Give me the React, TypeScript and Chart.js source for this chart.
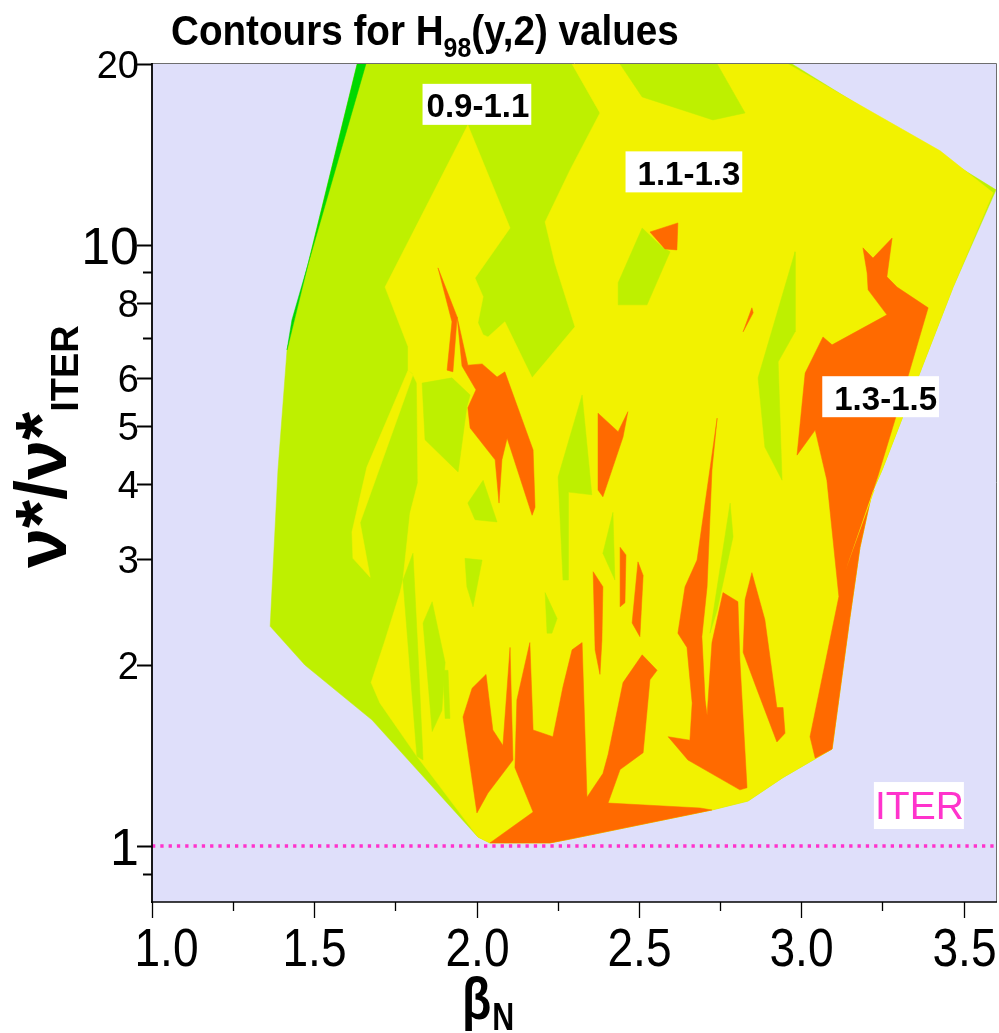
import React, { useEffect, useRef } from "react";
import { Chart, registerables } from "chart.js";

Chart.register(...registerables);

type Pt = [number, number];

// ---------- axes ----------
const betaRange: [number, number] = [1.0, 3.6];
const nuRange: [number, number] = [0.807, 20];
const betaTicks = [1.0, 1.25, 1.5, 1.75, 2.0, 2.25, 2.5, 2.75, 3.0, 3.25, 3.5];
const betaTickLabels = ["1.0", "", "1.5", "", "2.0", "", "2.5", "", "3.0", "", "3.5"];
const nuTicks = [0.9, 1, 2, 3, 4, 5, 6, 7, 8, 9, 10, 20];
const nuTickLabels = ["", "1", "2", "3", "4", "5", "6", "", "8", "", "10", "20"];

// ---------- reference level ----------
const iterNu = 1;
const iterLabel = "ITER";
const iterLabelPos: Pt = [3.364, 1.17];

// ---------- band labels ----------
const bandLabels = ["0.9-1.1", "1.1-1.3", "1.3-1.5"];
const bandLabelBeta = [2.004, 2.654, 3.26];
const bandLabelNu = [17.07, 13.18, 5.57];

// ---------- contour regions, (βN, ν*/ν*ITER) vertices ----------
// whole sampled domain: 0.9-1.1 band
const hull: Pt[] = [
  [1.632, 20], [2.972, 20], [3.6, 12.35], [3.468, 8.51], [3.249, 4.22], [3.218, 3.87],
  [3.181, 3.14], [3.15, 2.4], [3.095, 1.45], [2.944, 1.3], [2.836, 1.188], [2.725, 1.148],
  [2.288, 1.027], [2.226, 1.012], [2.041, 1.012], [2.004, 1.035], [1.678, 1.62], [1.471, 2.0],
  [1.364, 2.32], [1.388, 4.22], [1.416, 6.69],
];
// < 0.9 strip on the low-beta edge
const lowStrip: Pt[] = [[1.632, 20], [1.659, 20], [1.431, 7.5], [1.416, 6.69]];

// 1.1-1.3 band
const midMain: Pt[] = [
  [2.294, 20], [2.959, 20], [3.428, 14.34], [3.591, 12.21], [3.468, 8.51], [3.249, 4.22],
  [3.218, 3.87], [3.181, 3.14], [3.15, 2.4], [3.095, 1.45], [2.944, 1.3], [2.836, 1.188],
  [2.725, 1.148], [2.288, 1.027], [2.226, 1.012], [2.041, 1.012], [2.004, 1.035], [1.866, 1.3],
  [1.816, 1.41], [1.702, 1.73], [1.675, 1.87], [1.718, 2.2], [1.764, 2.64], [1.773, 2.77],
  [1.795, 3.58], [1.819, 4.02], [1.816, 5.89], [1.801, 6.12], [1.789, 6.19], [1.789, 6.77],
  [1.718, 8.51], [1.973, 15.83], [2.103, 10.67], [1.995, 8.81], [2.02, 8.2], [2.004, 7.42],
  [2.02, 7.09], [2.035, 7.03], [2.087, 7.45], [2.171, 6.01], [2.303, 7.31], [2.241, 9.33],
  [2.211, 10.92], [2.288, 13.33], [2.38, 16.58],
];
const midSliver: Pt[] = [
  [1.789, 6.19], [1.804, 6.08], [1.641, 3.45], [1.672, 2.8], [1.619, 3.01], [1.616, 3.33], [1.662, 4.27],
];
// thin 1.1-1.3 thread crossing the high-beta 1.3-1.5 patch
const midThread: Pt[] = [[3.222, 3.91], [3.226, 3.91], [3.137, 2.88]];

// 0.9-1.1 pockets inside the 1.1-1.3 band
const lowTop: Pt[] = [[2.442, 20], [2.741, 20], [2.827, 16.58], [2.728, 16.14], [2.51, 17.63]];
const lowA: Pt[] = [[2.51, 10.67], [2.571, 9.92], [2.596, 9.74], [2.525, 7.95], [2.436, 7.95], [2.436, 8.65]];
const lowB: Pt[] = [[1.832, 5.89], [1.924, 6.01], [1.98, 5.63], [1.97, 5.38], [1.943, 4.19], [1.841, 4.74]];
const lowC: Pt[] = [[1.973, 3.72], [2.02, 4.06], [2.063, 3.46], [1.995, 3.49]];
const lowD: Pt[] = [[1.964, 3.01], [2.017, 2.99], [1.989, 2.5], [1.97, 2.7]];
const lowE: Pt[] = [[2.211, 2.64], [2.248, 2.39], [2.232, 2.26], [2.217, 2.26]];
const lowF: Pt[] = [[2.251, 4.11], [2.325, 5.63], [2.355, 3.84], [2.282, 3.88], [2.282, 2.77], [2.266, 2.77]];
const lowG: Pt[] = [[2.981, 9.74], [2.981, 7.17], [2.929, 6.39], [2.941, 4.06], [2.888, 4.61], [2.867, 6.01]];
const lowH: Pt[] = [[2.389, 3.07], [2.42, 3.59], [2.426, 2.77]];
const lowI: Pt[] = [[2.719, 2.26], [2.781, 3.72], [2.79, 3.27], [2.741, 2.47]];
const lowJ: Pt[] = [[1.835, 2.35], [1.863, 2.55], [1.903, 2.02], [1.893, 1.68], [1.863, 1.55]];
const lowK: Pt[] = [[1.896, 1.96], [1.912, 1.96], [1.918, 1.63], [1.903, 1.63]];
const lowL: Pt[] = [[1.804, 3.07], [1.819, 2.12], [1.835, 1.39], [1.816, 1.41], [1.773, 2.77]];

// 1.3-1.5 band
const highA: Pt[] = [[2.534, 10.51], [2.62, 10.88], [2.617, 9.81], [2.58, 9.85]];
const highSpike: Pt[] = [[1.881, 9.16], [1.94, 7.59], [1.927, 6.15], [1.909, 6.19], [1.924, 7.45]];
const highB: Pt[] = [
  [1.94, 7.59], [1.973, 6.31], [2.017, 6.34], [2.063, 6.03], [2.087, 6.15], [2.174, 4.56],
  [2.18, 3.66], [2.171, 3.55], [2.094, 4.77], [2.078, 4.39], [2.069, 3.72], [2.057, 4.39],
  [1.98, 4.96], [1.973, 5.36], [1.998, 5.74], [1.955, 6.29],
];
const highC: Pt[] = [
  [3.19, 9.89], [3.221, 9.51], [3.28, 10.27], [3.264, 8.85], [3.295, 8.51], [3.391, 7.86],
  [3.314, 5.67], [3.237, 4.14], [3.215, 3.81], [3.181, 3.14], [3.15, 2.4], [3.095, 1.45],
  [3.043, 1.4], [3.027, 1.52], [3.116, 2.6], [3.079, 4.06], [3.043, 4.92], [2.987, 4.47],
  [3.012, 6.12], [3.067, 7.03], [3.095, 6.82], [3.264, 7.65], [3.206, 8.42], [3.203, 8.98],
];
const highD: Pt[] = [
  [2.741, 5.15], [2.725, 4.22], [2.71, 2.7], [2.694, 2.23], [2.704, 1.75], [2.71, 1.65],
  [2.725, 2.18], [2.759, 2.64], [2.805, 2.55], [2.811, 2.04], [2.833, 1.25], [2.811, 1.24],
  [2.651, 1.39], [2.59, 1.52], [2.657, 1.5], [2.664, 1.73], [2.648, 2.14], [2.62, 2.26],
  [2.642, 2.7], [2.679, 2.99],
];
const highE: Pt[] = [
  [2.848, 2.85], [2.888, 2.38], [2.925, 1.7], [2.944, 1.7], [2.95, 1.54], [2.925, 1.49],
  [2.864, 1.82], [2.821, 2.1], [2.827, 2.57],
];
const highF: Pt[] = [
  [2.041, 1.012], [2.174, 1.139], [2.118, 1.35], [2.124, 1.75], [2.164, 2.18], [2.174, 1.56],
  [2.235, 1.52], [2.266, 1.84], [2.294, 2.12], [2.325, 2.18], [2.34, 1.206], [2.389, 1.32],
  [2.405, 1.42], [2.451, 1.87], [2.51, 2.08], [2.556, 1.96], [2.534, 1.89], [2.513, 1.43],
  [2.442, 1.34], [2.405, 1.179], [2.688, 1.157], [2.725, 1.148], [2.288, 1.027], [2.226, 1.012],
];
const highG: Pt[] = [
  [1.958, 1.64], [1.986, 1.83], [2.029, 1.93], [2.05, 1.56], [2.081, 1.47], [2.103, 2.14],
  [2.112, 1.39], [2.035, 1.225], [2.001, 1.135],
];
const highH: Pt[] = [[2.374, 5.25], [2.436, 4.89], [2.466, 5.28], [2.451, 4.79], [2.389, 3.81], [2.374, 3.91]];
const highI: Pt[] = [[2.359, 2.86], [2.389, 2.7], [2.386, 2.2], [2.38, 1.93], [2.365, 2.12]];
const highJ: Pt[] = [[2.442, 3.14], [2.46, 3.05], [2.457, 2.54], [2.442, 2.5]];
const highK: Pt[] = [[2.497, 2.97], [2.513, 2.82], [2.503, 2.23], [2.479, 2.35]];
const highL: Pt[] = [[2.821, 7.17], [2.848, 7.86], [2.852, 7.71]];

// ---------- colours ----------
const PLOT_BG = "#dfdffa";
const C_LOW = "#00d800";
const C_09 = "#bef000";
const C_11 = "#f2f200";
const C_13 = "#ff6a00";
const C_ITER = "#ff33cc";

const SANS = '"Liberation Sans", Arial, Helvetica, sans-serif';

// drawing order, bottom first
const layers: { pts: Pt[]; color: string; edge: number }[] = [
  { pts: hull, color: C_09, edge: 0.5 },
  { pts: lowStrip, color: C_LOW, edge: 0.5 },
  { pts: midMain, color: C_11, edge: 0.5 },
  { pts: midSliver, color: C_11, edge: 0.5 },
  ...[lowTop, lowA, lowB, lowC, lowD, lowE, lowF, lowG, lowH, lowI, lowJ, lowK, lowL].map((pts) => ({
    pts,
    color: C_09,
    edge: 0.5,
  })),
  ...[highA, highSpike, highB, highC, highD, highE, highF, highG, highH, highI, highJ, highK, highL].map((pts) => ({
    pts,
    color: C_13,
    edge: 0.5,
  })),
  { pts: midThread, color: C_11, edge: 0.01 },
];

function drawText(
  ctx: CanvasRenderingContext2D,
  s: string,
  x: number,
  y: number,
  font: string,
  color: string,
  align: "left" | "center" | "right",
  sx = 1
): number {
  ctx.save();
  ctx.font = font;
  ctx.fillStyle = color;
  ctx.textBaseline = "alphabetic";
  ctx.textAlign = "left";
  const w = ctx.measureText(s).width * sx;
  const x0 = align === "left" ? x : align === "center" ? x - w / 2 : x - w;
  ctx.translate(x0, y);
  ctx.scale(sx, 1);
  ctx.fillText(s, 0, 0);
  ctx.restore();
  return w;
}

const backgroundPlugin = {
  id: "plotBackground",
  beforeDatasetsDraw(chart: any) {
    const { ctx, chartArea: a } = chart;
    ctx.save();
    ctx.fillStyle = PLOT_BG;
    ctx.fillRect(a.left, a.top, a.right - a.left, a.bottom - a.top);
    ctx.restore();
  },
};

const decorPlugin = {
  id: "decor",
  afterDatasetsDraw(chart: any) {
    const { ctx, chartArea: a, scales } = chart;
    const xs = scales.x;
    const ys = scales.y;
    ctx.save();

    // frame
    ctx.strokeStyle = "#6e6e6e";
    ctx.lineWidth = 1;
    ctx.beginPath();
    ctx.moveTo(a.left, a.top - 0.5);
    ctx.lineTo(a.right + 0.5, a.top - 0.5);
    ctx.lineTo(a.right + 0.5, a.bottom);
    ctx.stroke();

    ctx.strokeStyle = "#000";
    ctx.lineWidth = 1.8;
    ctx.beginPath();
    ctx.moveTo(a.left, a.top - 1);
    ctx.lineTo(a.left, a.bottom + 1);
    ctx.stroke();
    ctx.lineWidth = 1.4;
    ctx.beginPath();
    ctx.moveTo(a.left - 1, a.bottom);
    ctx.lineTo(a.right + 1, a.bottom);
    ctx.stroke();

    // y ticks and labels
    nuTicks.forEach((v, i) => {
      const py = Math.round(ys.getPixelForValue(v)) + 0.5;
      const lab = nuTickLabels[i];
      const len = lab ? 15 : 9;
      ctx.strokeStyle = "#000";
      ctx.lineWidth = 2;
      ctx.beginPath();
      ctx.moveTo(a.left - len, py);
      ctx.lineTo(a.left, py);
      ctx.stroke();
      if (lab) {
        const size = lab === "1" || lab === "10" ? 52 : 38;
        drawText(ctx, lab, 139, py + 0.358 * size, `${size}px ${SANS}`, "#000", "right");
      }
    });

    // x ticks and labels
    betaTicks.forEach((v, i) => {
      const px = Math.round(xs.getPixelForValue(v)) + 0.5;
      const lab = betaTickLabels[i];
      const len = lab ? 16 : 9;
      ctx.strokeStyle = "#000";
      ctx.lineWidth = 1.3;
      ctx.beginPath();
      ctx.moveTo(px, a.bottom);
      ctx.lineTo(px, a.bottom + len);
      ctx.stroke();
      if (lab) {
        const shift = i === 0 ? 14 : 0;
        drawText(ctx, lab, px + shift, 966, `53px ${SANS}`, "#000", "center", 0.87);
      }
    });

    // band labels in white boxes
    const boxPad = [
      [4, 2],
      [12, 2],
      [12, 2],
    ];
    bandLabels.forEach((s, i) => {
      const cx = xs.getPixelForValue(bandLabelBeta[i]);
      const cy = ys.getPixelForValue(bandLabelNu[i]);
      ctx.font = `bold 33px ${SANS}`;
      const w = ctx.measureText(s).width;
      ctx.fillStyle = "#fff";
      ctx.fillRect(cx - w / 2 - boxPad[i][0], cy - 21.5, w + boxPad[i][0] + boxPad[i][1], 41);
      drawText(ctx, s, cx, cy + 12, `bold 33px ${SANS}`, "#000", "center");
    });

    // reference level label
    {
      const cx = xs.getPixelForValue(iterLabelPos[0]);
      const cy = ys.getPixelForValue(iterLabelPos[1]);
      ctx.fillStyle = "#fff";
      ctx.fillRect(cx - 45.5, cy - 23, 90, 47);
      drawText(ctx, iterLabel, cx, cy + 14, `39px ${SANS}`, C_ITER, "center");
    }

    // title
    {
      let x = 171;
      x += drawText(ctx, "Contours for H", x, 45, `bold 42px ${SANS}`, "#000", "left", 0.92);
      x += drawText(ctx, "98", x, 57, `bold 27px ${SANS}`, "#000", "left", 0.92);
      drawText(ctx, "(y,2) values", x, 45, `bold 42px ${SANS}`, "#000", "left", 0.92);
    }

    // x-axis title
    {
      const w = drawText(ctx, "\u03b2", 462, 1019, `bold 60px ${SANS}`, "#000", "left", 0.8);
      drawText(ctx, "N", 462 + w + 1, 1030, `bold 38px ${SANS}`, "#000", "left", 0.8);
    }

    // y-axis title
    {
      ctx.save();
      ctx.translate(66, 568);
      ctx.rotate(-Math.PI / 2);
      const w = drawText(ctx, "\u03bd*/\u03bd*", 0, 0, `bold 72px ${SANS}`, "#000", "left");
      drawText(ctx, "ITER", w, 12, `bold 38px ${SANS}`, "#000", "left");
      ctx.restore();
    }

    ctx.restore();
  },
};

export default function App() {
  const ref = useRef<HTMLCanvasElement | null>(null);

  useEffect(() => {
    if (!ref.current) return;
    const regionSets = layers.map((l) => ({
      data: l.pts.concat([l.pts[0]]).map(([x, y]) => ({ x, y })),
      showLine: true,
      fill: "shape",
      backgroundColor: l.color,
      borderColor: l.color,
      borderWidth: l.edge,
      pointRadius: 0,
      pointHoverRadius: 0,
      tension: 0,
    }));
    const iterLine = {
      data: [
        { x: betaRange[0], y: iterNu },
        { x: betaRange[1], y: iterNu },
      ],
      showLine: true,
      fill: false,
      borderColor: C_ITER,
      borderWidth: 3.3,
      borderDash: [3.3, 5],
      pointRadius: 0,
      pointHoverRadius: 0,
    };
    // first dataset is painted last, so the top layer goes first
    const datasets = [iterLine, ...regionSets.reverse()];

    const chart = new Chart(ref.current, {
      type: "scatter",
      data: { datasets: datasets as any },
      options: {
        animation: false,
        responsive: false,
        maintainAspectRatio: false,
        devicePixelRatio: 1,
        events: [],
        layout: { padding: { left: 152, right: 3, top: 64, bottom: 131 } },
        scales: {
          x: { type: "linear", min: betaRange[0], max: betaRange[1], display: false },
          y: { type: "logarithmic", min: nuRange[0], max: nuRange[1], display: false },
        },
        plugins: {
          legend: { display: false },
          tooltip: { enabled: false },
          title: { display: false },
        },
      } as any,
      plugins: [backgroundPlugin, decorPlugin],
    });
    return () => chart.destroy();
  }, []);

  return (
    <div style={{ position: "absolute", left: 0, top: 0, width: 999, height: 1033, background: "#fff" }}>
      <canvas ref={ref} width={999} height={1033} style={{ display: "block" }} />
    </div>
  );
}
